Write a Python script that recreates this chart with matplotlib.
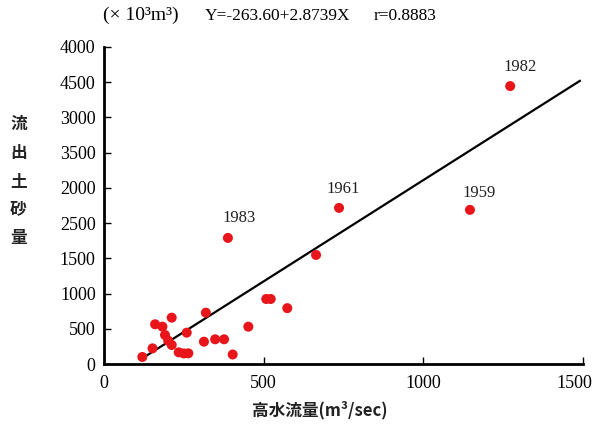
import matplotlib
matplotlib.use("Agg")
import numpy as np
from matplotlib import pyplot as plt
from matplotlib.transforms import ScaledTranslation

# high-water discharge (m3/sec) and sediment yield (x10^3 m3)
flow = [120, 152, 160, 183, 212, 191, 201, 212, 234, 250, 264, 259, 319, 313,
        348, 376, 403, 452, 508, 522, 574, 664, 736, 1146, 388, 1272]
sediment = [100, 222, 564, 530, 658, 412, 331, 270, 166, 150, 152, 445, 729, 317,
            351, 351, 135, 530, 923, 923, 793, 1548, 2216, 2188, 1790, 3945]

# labelled years
years = ['1961', '1959', '1983', '1982']
year_flow = [736, 1146, 388, 1272]
year_sed = [2216, 2188, 1790, 3945]
year_offset = [(4, 19), (9, 17), (11, 20), (10, 19)]

# regression Y = -263.60 + 2.8739X
fit_x = np.array([120, 1490])
fit_y = -263.60 + 2.8739 * fit_x

xticks = [0, 500, 1000, 1500]
yticks = [0, 500, 1000, 1500, 2000, 2500, 3000, 3500, 4000, 4500]
ytick_labels = ['0', '500', '1000', '1500', '2500', '2000', '3500', '3000', '4500', '4000']

serif = ['Liberation Serif', 'DejaVu Serif']
cjk = ['Noto Sans CJK JP', 'DejaVu Sans']

fig = plt.figure(figsize=(5.93, 4.26), dpi=100)
ax = fig.add_axes([0.1754, 0.1455, 0.8077, 0.7442])

ax.plot(fit_x, fit_y, color='black', lw=1.6, zorder=2)
ax.scatter(flow, sediment, s=52, color='#e8161b', edgecolors='none', zorder=3)

for lab, x, y, off in zip(years, year_flow, year_sed, year_offset):
    ax.annotate(lab, (x, y), xytext=off, textcoords='offset pixels',
                ha='center', va='center', fontsize=12, family=serif, color='#222222')

ax.set_xlim(0, 1500)
ax.set_ylim(0, 4500)
ax.set_xticks(xticks)
ax.set_xticklabels([str(t) for t in xticks], family=serif, fontsize=13)
ax.set_yticks(yticks)
ax.set_yticklabels(ytick_labels, family=serif, fontsize=13)
ax.tick_params(direction='in', length=5, width=1, pad=6)
ax.tick_params(axis='x', pad=8)

# last x label sits left of its tick, as in the scan
last = ax.get_xticklabels()[-1]
last.set_horizontalalignment('right')
last.set_transform(last.get_transform() + ScaledTranslation(9 / 100, 0, fig.dpi_scale_trans))

for s in ['top', 'right']:
    ax.spines[s].set_visible(False)
for s in ['left', 'bottom']:
    ax.spines[s].set_linewidth(2)

fig.text(0.174, 0.963, '(× 10³m³)', family=serif, fontsize=14, ha='left', va='center')
fig.text(0.345, 0.963, 'Y=-263.60+2.8739X', family=serif, fontsize=12.5, ha='left', va='center')
fig.text(0.630, 0.963, 'r=0.8883', family=serif, fontsize=12.5, ha='left', va='center')

fig.text(0.031, 0.575, '流\n出\n土\n砂\n量', family=cjk, fontsize=12, fontweight='bold',
         ha='center', va='center', linespacing=1.75, color='#222222')
fig.text(0.54, 0.036, '高水流量(m³/sec)', family=cjk, fontsize=12, fontweight='bold',
         ha='center', va='center', color='#222222')

fig.savefig('out.png', dpi=100)
